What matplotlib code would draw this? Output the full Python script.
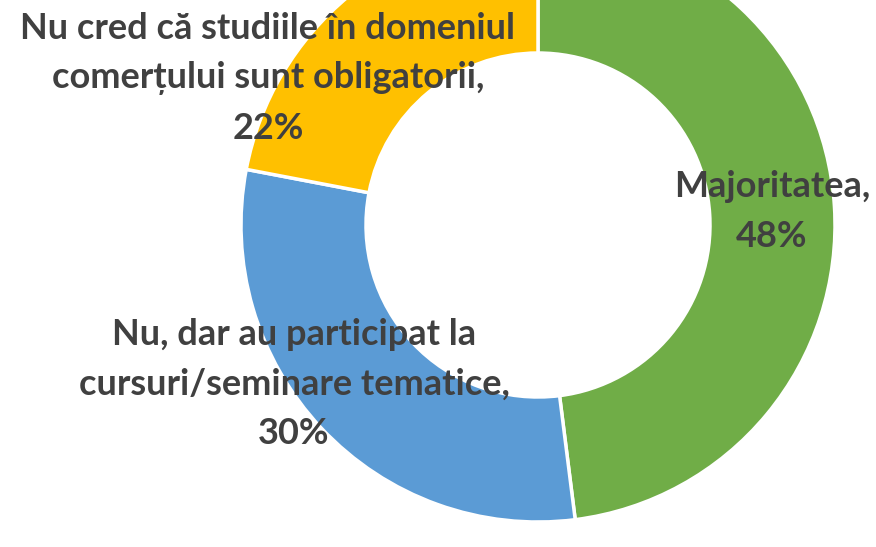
import matplotlib
matplotlib.use("Agg")
import matplotlib.pyplot as plt

categories = ["Majoritatea", "Nu, dar au participat la\ncursuri/seminare tematice",
              "Nu cred că studiile în domeniul\ncomerțului sunt obligatorii"]
values = [48, 30, 22]
colors = ["#70AD47", "#5B9BD5", "#FFC000"]

W, H = 876, 547
fig = plt.figure(figsize=(W / 100, H / 100), dpi=100)
ax = fig.add_axes([0, 0, 1, 1])

cx, cy = 538, H - 225
R, r = 297, 172
wedges, _ = ax.pie(values, colors=colors, startangle=90, counterclock=False,
                   center=(cx, cy), radius=R, frame=True,
                   wedgeprops=dict(width=R - r, edgecolor="white", linewidth=2.5))
ax.set_xlim(0, W)
ax.set_ylim(0, H)
ax.set_aspect("equal")
ax.axis("off")

# baseline of the last line of each label
label_pos = [(772, H - 247), (294, H - 444), (268, H - 139)]
for cat, v, (x, y) in zip(categories, values, label_pos):
    txt = f"{cat},\n{v}%"
    ax.text(x, y, txt, ha="center", va="baseline", multialignment="center",
            fontsize=26, fontweight="bold", family="Lato", color="#404040",
            linespacing=1.62)

fig.savefig("out.png", dpi=100)
